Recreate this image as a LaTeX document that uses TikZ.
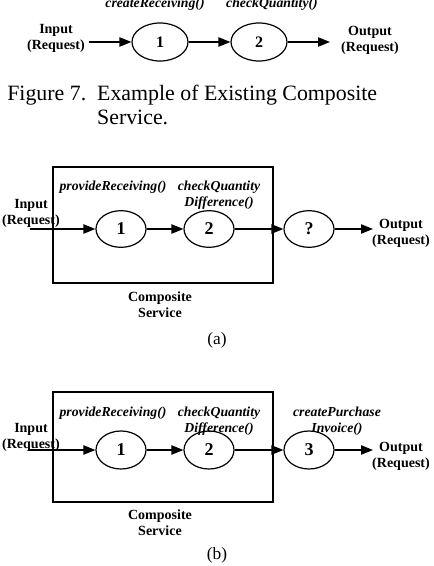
\documentclass[tikz,border=0pt]{standalone}
\usepackage{fontspec}
\setmainfont{Liberation Serif}
\usepackage{tikz}
\usetikzlibrary{arrows.meta,positioning,shapes.geometric}

\begin{document}
\begin{tikzpicture}[
  x=0.75pt, y=-0.75pt,
  proc/.style={ellipse, draw, line width=0.9pt, inner sep=0pt, minimum width=37.5pt, minimum height=27.5pt, font=\fontsize{13.5}{15}\selectfont\bfseries},
  bigproc/.style={proc, minimum width=42pt, minimum height=28.5pt, font=\fontsize{12}{14}\selectfont\bfseries},
  lbl/.style={align=center, inner sep=0pt, font=\fontsize{10.5}{12}\selectfont\bfseries},
  fn/.style={align=center, inner sep=0pt, font=\fontsize{10.3}{12}\selectfont\bfseries\itshape},
  svcbox/.style={draw, line width=0.9pt, minimum width=165pt},
  arrow/.style={-{Triangle[length=9pt, width=7pt]}, line width=0.9pt}
]
\useasboundingbox (0,0) rectangle (434,566);

% Figure 7: existing composite service
\node[lbl] (in7) at (56,38) {Input\\(Request)};
\coordinate (in7s) at (89,42);
\node[bigproc] (c1) at (160,42) {1};
\node[bigproc] (c2) at (259,42) {2};
\coordinate (out7e) at (330,42);
\node[lbl] (out7) at (370,40) {Output\\(Request)};
\node[fn] (f71) at (155,4) {createReceiving()};
\node[fn] (f72) at (272,4) {checkQuantity()};

\draw[arrow] (in7s) -- (c1);
\draw[arrow] (c1) -- (c2);
\draw[arrow] (c2) -- (out7e);

\node[anchor=north west, inner sep=0pt, font=\fontsize{16.4}{18}\selectfont] (cap7) at (7,83)
  {Figure 7.\ \ \begin{tabular}[t]{@{}l@{}}Example of Existing Composite\\Service.\end{tabular}};

% (a) unknown third service
\node[svcbox, minimum height=87pt] (boxa) at (163,225) {};
\node[fn] (fa1) at (113,187) {provideReceiving()};
\node[fn] (fa2) at (219,195) {checkQuantity\\Difference()};
\node[lbl] (ina) at (31,213) {Input\\(Request)};
\coordinate (inas) at (30,229);
\node[proc] (a1) at (121,229) {1};
\node[proc] (a2) at (209,229) {2};
\node[proc] (aq) at (309,229) {?};
\coordinate (outae) at (373,229);
\node[lbl] (outa) at (401,233) {Output\\(Request)};
\node[lbl] (svca) at (160,305) {Composite\\Service};
\node[font=\fontsize{13}{15}\selectfont] (capa) at (217,340) {(a)};

\draw[arrow] (inas) -- (a1);
\draw[arrow] (a1) -- (a2);
\draw[arrow] (a2) -- (aq);
\draw[arrow] (aq) -- (outae);

% (b) createPurchaseInvoice chosen
\node[svcbox, minimum height=82.5pt] (boxb) at (163,447) {};
\node[fn] (fb1) at (113,413) {provideReceiving()};
\node[fn] (fb2) at (219,421) {checkQuantity\\Difference()};
\node[fn] (fb3) at (337,421) {createPurchase\\Invoice()};
\node[lbl] (inb) at (31,437) {Input\\(Request)};
\coordinate (inbs) at (30,450);
\node[proc, minimum height=28.5pt] (b1) at (121,450) {1};
\node[proc, minimum height=28.5pt] (b2) at (209,450) {2};
\node[proc, minimum height=28.5pt] (b3) at (309,450) {3};
\coordinate (outbe) at (373,450);
\node[lbl] (outb) at (401,456) {Output\\(Request)};
\node[lbl] (svcb) at (160,523) {Composite\\Service};
\node[font=\fontsize{13}{15}\selectfont] (capb) at (217,555) {(b)};

\draw[arrow] (inbs) -- (b1);
\draw[arrow] (b1) -- (b2);
\draw[arrow] (b2) -- (b3);
\draw[arrow] (b3) -- (outbe);
\end{tikzpicture}
\end{document}
